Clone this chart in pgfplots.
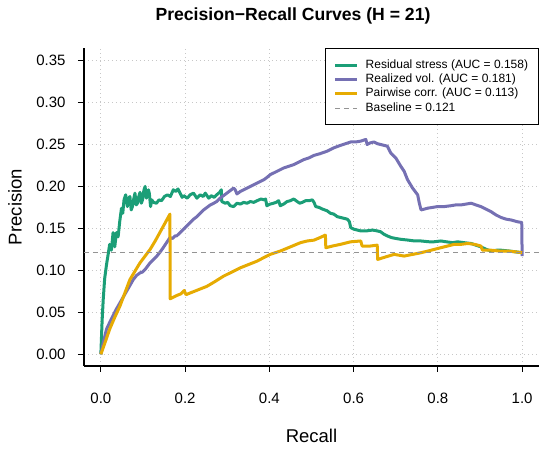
\documentclass[border=0pt]{standalone}
\usepackage{pgfplots}
\pgfplotsset{compat=1.18}
\usepackage{fontspec}
\setmainfont{Liberation Sans}
\definecolor{cgreen}{HTML}{1B9E77}
\definecolor{cpurple}{HTML}{7570B3}
\definecolor{corange}{HTML}{E6AB02}
\begin{document}
\begin{tikzpicture}[x=1pt,y=1pt]
\path[use as bounding box] (0,0) rectangle (550,449);
\begin{axis}[
  at={(84pt,83pt)}, anchor=south west,
  scale only axis, width=455pt, height=318pt,
  xmin=-0.04, xmax=1.04, ymin=-0.014, ymax=0.365,
  axis x line*=bottom, axis y line*=left,
  axis line style={line width=1.1pt,-},
  xtick={0,0.2,0.4,0.6,0.8,1.0},
  ytick={0,0.05,0.1,0.15,0.2,0.25,0.3,0.35},
  xticklabels={0.0,0.2,0.4,0.6,0.8,1.0},
  yticklabels={0.00,0.05,0.10,0.15,0.20,0.25,0.30,0.35},
  tick align=outside, major tick length=6pt,
  tick style={line width=1.1pt, black},
  grid=major, major grid style={dash pattern=on 1pt off 3pt, line width=0.8pt, black!22},
  /pgf/number format/assume math mode=true,
  ticklabel style={font=\fontsize{15}{17}\selectfont},
  xticklabel style={yshift=-17pt},
  yticklabel style={xshift=-9pt},
  legend cell align=left,
  legend style={at={(1,1)}, anchor=north east, xshift=-0.5pt, yshift=-0.5pt,
    draw=black, line width=0.8pt,
    font=\fontsize{12}{14}\selectfont,
    row sep=0pt,
    nodes={inner ysep=1.5pt, text height=8.8pt, text depth=2.6pt},
    /tikz/every odd column/.append style={column sep=5pt},
    inner xsep=8pt, inner ysep=9pt},
  legend image code/.code={\draw[#1] (0pt,0pt) -- (22pt,0pt);},
]
\addplot[cgreen, line width=3pt, line join=round] coordinates {
(0,0) (0.003,0.04) (0.0056,0.065) (0.009,0.09) (0.0135,0.107) (0.017,0.118) (0.021,0.131) (0.025,0.124) (0.029,0.145) (0.033,0.128) (0.037,0.145) (0.041,0.140) (0.045,0.159) (0.049,0.174) (0.052,0.168) (0.055,0.184) (0.059,0.190) (0.063,0.176) (0.066,0.186) (0.069,0.188) (0.072,0.172) (0.075,0.176) (0.078,0.185) (0.081,0.192) (0.084,0.178) (0.087,0.180) (0.090,0.188) (0.093,0.193) (0.096,0.180) (0.099,0.184) (0.102,0.195) (0.105,0.200) (0.108,0.186) (0.110,0.190) (0.113,0.196) (0.115,0.192) (0.118,0.176) (0.121,0.184) (0.125,0.181) (0.132,0.180) (0.138,0.184) (0.144,0.183) (0.151,0.188) (0.158,0.190) (0.165,0.188) (0.172,0.196) (0.178,0.194) (0.183,0.197) (0.188,0.192) (0.193,0.187) (0.197,0.189) (0.205,0.186) (0.212,0.190) (0.220,0.192) (0.228,0.186) (0.236,0.190) (0.243,0.188) (0.248,0.192) (0.256,0.186) (0.262,0.189) (0.269,0.187) (0.275,0.190) (0.282,0.193) (0.286,0.196) (0.287,0.182) (0.295,0.180) (0.301,0.181) (0.307,0.177) (0.315,0.176) (0.323,0.180) (0.331,0.179) (0.339,0.181) (0.347,0.180) (0.355,0.182) (0.363,0.181) (0.371,0.183) (0.380,0.185) (0.388,0.184) (0.391,0.185) (0.394,0.177) (0.402,0.179) (0.410,0.180) (0.416,0.181) (0.422,0.183) (0.426,0.177) (0.434,0.179) (0.442,0.182) (0.450,0.183) (0.458,0.185) (0.466,0.182) (0.472,0.180) (0.478,0.181) (0.486,0.183) (0.494,0.183) (0.502,0.184) (0.506,0.181) (0.510,0.176) (0.518,0.175) (0.526,0.173) (0.537,0.171) (0.545,0.168) (0.553,0.167) (0.561,0.164) (0.569,0.163) (0.577,0.162) (0.585,0.161) (0.590,0.158) (0.593,0.151) (0.601,0.149) (0.609,0.148) (0.617,0.147) (0.630,0.147) (0.645,0.148) (0.656,0.147) (0.664,0.146) (0.672,0.143) (0.680,0.141) (0.690,0.139) (0.700,0.138) (0.712,0.137) (0.730,0.136) (0.745,0.135) (0.760,0.135) (0.780,0.134) (0.790,0.134) (0.807,0.135) (0.820,0.134) (0.835,0.133) (0.847,0.134) (0.862,0.133) (0.879,0.132) (0.890,0.130) (0.902,0.128) (0.915,0.125) (0.926,0.123) (0.940,0.124) (0.950,0.124) (0.970,0.123) (0.985,0.122) (1.0,0.121)
};
\addlegendentry{Residual stress (AUC = 0.158)}
\addplot[cpurple, line width=3pt, line join=round] coordinates {
(0,0) (0.005,0.012) (0.0135,0.030) (0.021,0.038) (0.029,0.046) (0.037,0.054) (0.045,0.061) (0.053,0.068) (0.061,0.075) (0.069,0.082) (0.077,0.089) (0.085,0.094) (0.093,0.097) (0.099,0.098) (0.105,0.101) (0.111,0.105) (0.117,0.109) (0.125,0.113) (0.133,0.117) (0.141,0.122) (0.148,0.127) (0.156,0.133) (0.164,0.139) (0.170,0.138) (0.176,0.141) (0.180,0.141) (0.188,0.145) (0.196,0.149) (0.204,0.153) (0.212,0.157) (0.220,0.161) (0.228,0.164) (0.236,0.168) (0.244,0.172) (0.252,0.175) (0.260,0.178) (0.268,0.180) (0.275,0.182) (0.283,0.186) (0.291,0.189) (0.299,0.192) (0.307,0.195) (0.315,0.198) (0.319,0.196) (0.323,0.191) (0.331,0.194) (0.339,0.196) (0.347,0.198) (0.355,0.200) (0.363,0.202) (0.371,0.204) (0.379,0.206) (0.387,0.208) (0.395,0.211) (0.402,0.214) (0.414,0.217) (0.426,0.220) (0.434,0.222) (0.446,0.224) (0.458,0.226) (0.470,0.229) (0.482,0.232) (0.494,0.234) (0.506,0.237) (0.520,0.239) (0.537,0.242) (0.553,0.246) (0.569,0.249) (0.581,0.251) (0.593,0.253) (0.605,0.253) (0.617,0.254) (0.629,0.256) (0.632,0.250) (0.640,0.252) (0.648,0.253) (0.656,0.251) (0.664,0.250) (0.672,0.249) (0.680,0.248) (0.684,0.244) (0.688,0.240) (0.694,0.237) (0.700,0.234) (0.706,0.229) (0.712,0.224) (0.716,0.221) (0.720,0.218) (0.724,0.213) (0.728,0.208) (0.734,0.203) (0.740,0.198) (0.746,0.194) (0.752,0.190) (0.756,0.180) (0.760,0.172) (0.768,0.173) (0.775,0.174) (0.787,0.175) (0.799,0.176) (0.815,0.176) (0.831,0.177) (0.843,0.178) (0.855,0.178) (0.867,0.179) (0.879,0.180) (0.890,0.178) (0.902,0.176) (0.914,0.173) (0.926,0.170) (0.938,0.166) (0.950,0.163) (0.962,0.161) (0.974,0.160) (0.988,0.158) (0.999,0.157) (1.0,0.117)
};
\addlegendentry{Realized vol. (AUC = 0.181)}
\addplot[corange, line width=3pt, line join=round] coordinates {
(0,0) (0.010,0.014) (0.021,0.030) (0.033,0.044) (0.045,0.057) (0.057,0.073) (0.069,0.089) (0.081,0.099) (0.093,0.109) (0.105,0.117) (0.117,0.125) (0.129,0.135) (0.140,0.145) (0.152,0.156) (0.164,0.167) (0.1645,0.066) (0.172,0.068) (0.180,0.070) (0.190,0.072) (0.198,0.076) (0.202,0.071) (0.212,0.073) (0.232,0.077) (0.252,0.081) (0.272,0.087) (0.291,0.093) (0.311,0.098) (0.331,0.103) (0.351,0.107) (0.371,0.111) (0.386,0.115) (0.402,0.119) (0.414,0.121) (0.426,0.123) (0.450,0.128) (0.474,0.133) (0.490,0.135) (0.506,0.136) (0.520,0.139) (0.533,0.142) (0.534,0.127) (0.550,0.129) (0.569,0.131) (0.593,0.134) (0.617,0.135) (0.620,0.129) (0.640,0.129) (0.656,0.130) (0.657,0.113) (0.676,0.116) (0.696,0.119) (0.720,0.117) (0.740,0.119) (0.760,0.121) (0.784,0.124) (0.807,0.127) (0.823,0.129) (0.839,0.131) (0.855,0.131) (0.871,0.132) (0.887,0.131) (0.902,0.129) (0.906,0.124) (0.926,0.124) (0.946,0.123) (0.966,0.123) (0.985,0.122) (1.0,0.121)
};
\addlegendentry{Pairwise corr. (AUC = 0.113)}
\addplot[black!42, line width=1pt, dash pattern=on 5pt off 4pt] coordinates {(-0.04,0.121) (1.04,0.121)};
\addlegendentry{Baseline = 0.121}
\end{axis}
\node[font=\bfseries\fontsize{17.6}{20}\selectfont] at (293,433) {Precision−Recall Curves (H = 21)};
\node[font=\fontsize{18.5}{21}\selectfont, rotate=90] at (15,242) {Precision};
\node[font=\fontsize{18.5}{21}\selectfont] at (311.5,13) {Recall};
\end{tikzpicture}
\end{document}
